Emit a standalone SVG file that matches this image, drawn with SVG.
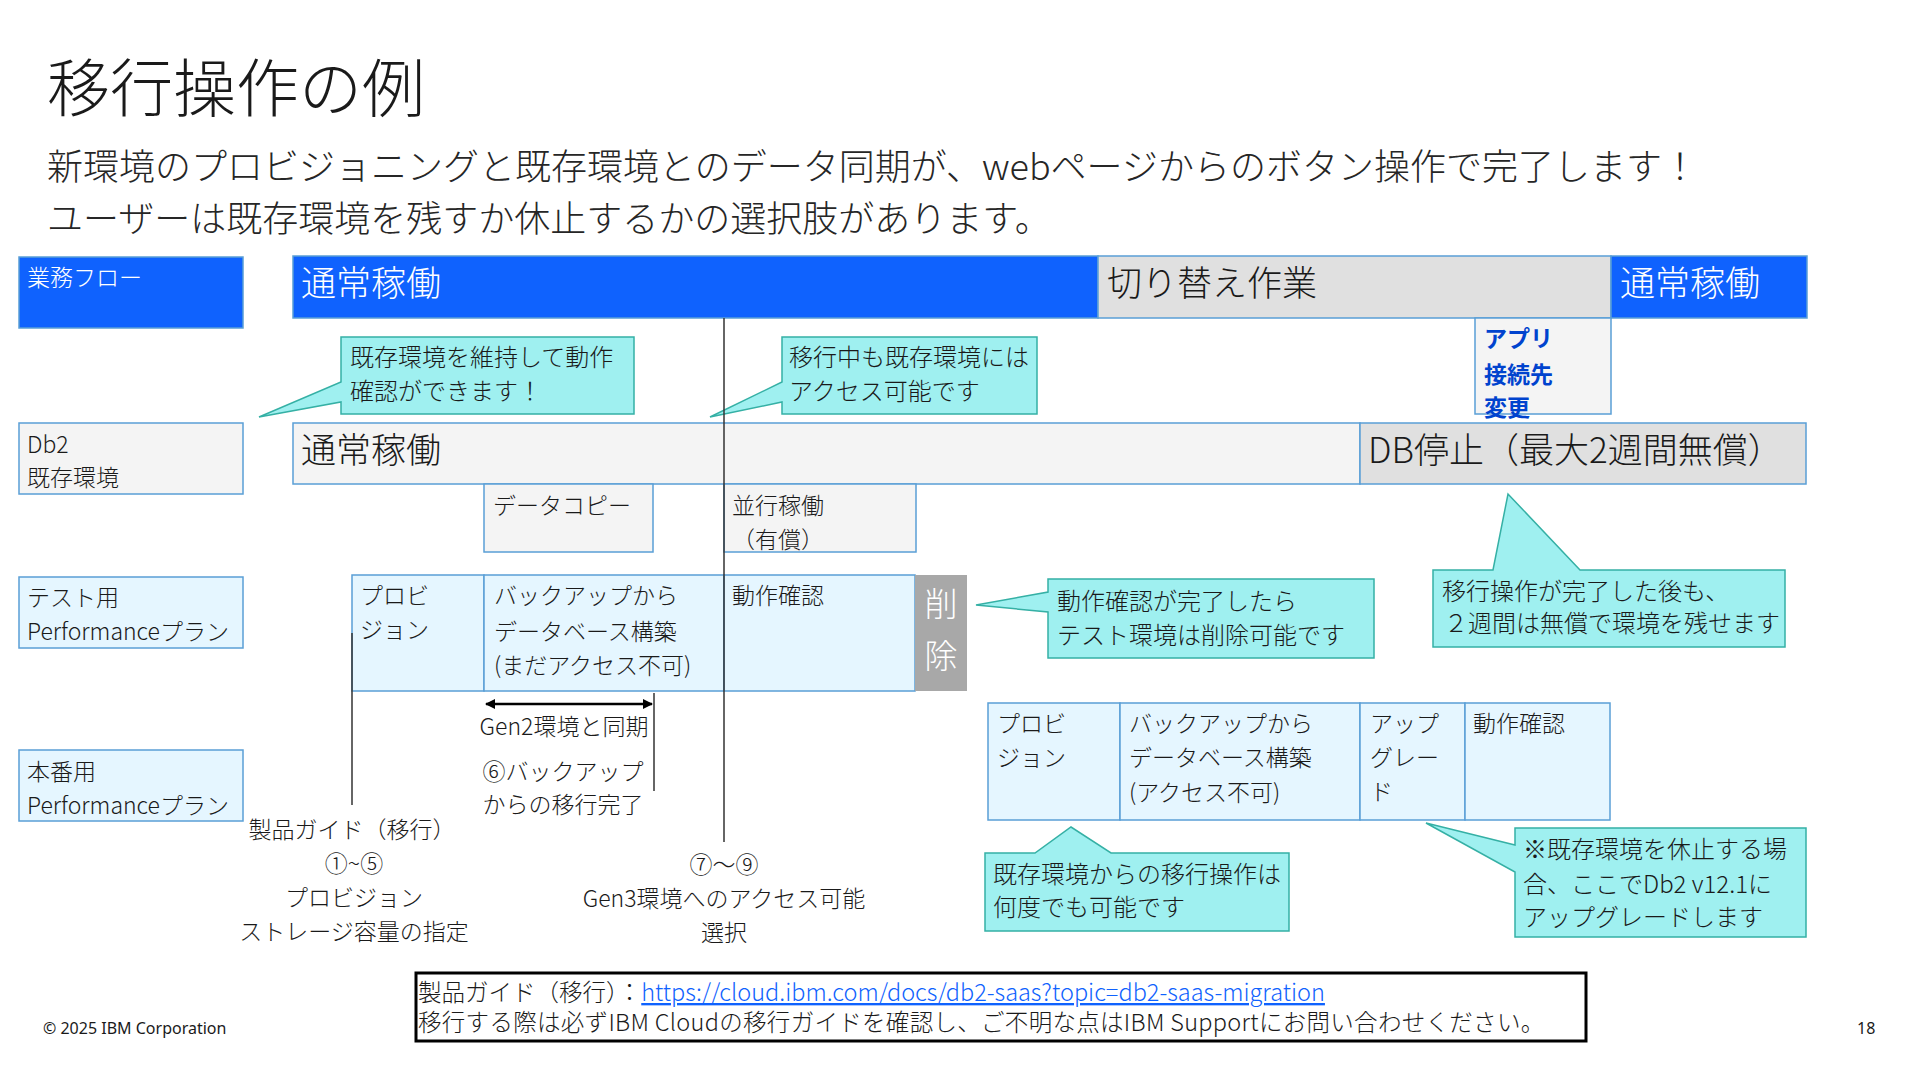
<svg xmlns="http://www.w3.org/2000/svg" width="1920" height="1080" viewBox="0 0 1920 1080">
<defs>
<style>
text { font-family: "Noto Sans CJK JP", "Noto Sans", sans-serif; fill: #1a1a1a; font-weight: 300; }
.t23 { font-size: 23px; }
.t24 { font-size: 24px; }
.big { font-size: 35px; }
.w { fill: #ffffff; }
.blue { fill: #0f62fe; stroke: #5a9fd6; stroke-width: 1.5; }
.grey { fill: #f4f4f4; stroke: #5a9fd6; stroke-width: 1.5; }
.grey2 { fill: #e0e0e0; stroke: #5a9fd6; stroke-width: 1.5; }
.cyan { fill: #e5f6ff; stroke: #5a9fd6; stroke-width: 1.5; }
.callout { fill: #9ff0f0; stroke: #35b0a5; stroke-width: 1.5; }
.del { fill: #a8a8a8; }
.line { stroke: #333333; stroke-width: 1.5; fill: none; }
.mid { text-anchor: middle; }
.app { fill: #0043ce; font-weight: bold; font-size: 23px; }
</style>
<marker id="arr" viewBox="0 0 10 10" refX="9" refY="5" markerWidth="4" markerHeight="4" orient="auto-start-reverse">
<path d="M0,0 L10,5 L0,10 z" fill="#000000"/>
</marker>
</defs>
<rect width="1920" height="1080" fill="#ffffff"/>

<g id="title">
<text x="47" y="111" style="font-size:63px">移行操作の例</text>
<text x="47" y="180" style="font-size:36px;fill:#262626">新環境のプロビジョニングと既存環境とのデータ同期が、webページからのボタン操作で完了します！</text>
<text x="47" y="232" style="font-size:36px;fill:#262626">ユーザーは既存環境を残すか休止するかの選択肢があります。</text>
</g>

<!-- row labels -->
<g id="label-flow"><rect class="blue" x="19" y="257" width="224" height="71"/><text class="t23 w" x="27" y="286">業務フロー</text></g>
<g id="label-db2"><rect class="grey" x="19" y="423" width="224" height="71"/><text class="t23" x="27" y="453">Db2</text><text class="t23" x="27" y="486">既存環境</text></g>
<g id="label-test"><rect class="cyan" x="19" y="577" width="224" height="71"/><text class="t23" x="27" y="606">テスト用</text><text class="t23" x="27" y="640">Performanceプラン</text></g>
<g id="label-prod"><rect class="cyan" x="19" y="750" width="224" height="71"/><text class="t23" x="27" y="780">本番用</text><text class="t23" x="27" y="814">Performanceプラン</text></g>

<!-- business flow -->
<g id="flow-normal1"><rect class="blue" x="293" y="256" width="805" height="62"/><text class="big w" x="301" y="296">通常稼働</text></g>
<g id="flow-switch"><rect class="grey2" x="1098" y="256" width="513" height="62"/><text class="big" x="1107" y="296">切り替え作業</text></g>
<g id="flow-normal2"><rect class="blue" x="1611" y="256" width="196" height="62"/><text class="big w" x="1620" y="296">通常稼働</text></g>
<g id="app-change"><rect class="grey" x="1475" y="318" width="136" height="96"/><text class="app" x="1484" y="347">アプリ</text><text class="app" x="1484" y="383">接続先</text><text class="app" x="1484" y="416">変更</text></g>

<!-- Db2 existing -->
<g id="db2-normal"><rect class="grey" x="293" y="423" width="1067" height="61"/><text class="big" x="301" y="463">通常稼働</text></g>
<g id="db2-stop"><rect class="grey2" x="1360" y="423" width="446" height="61"/><text class="big" x="1368" y="463">DB停止（最大2週間無償）</text></g>
<g id="data-copy"><rect class="grey" x="484" y="484" width="169" height="68"/><text class="t23" x="493" y="514">データコピー</text></g>
<g id="parallel"><rect class="grey" x="724" y="484" width="192" height="68"/><text class="t23" x="732" y="514">並行稼働</text><text class="t23" x="732" y="548">（有償）</text></g>

<!-- test plan -->
<g id="test-prov"><rect class="cyan" x="352" y="575" width="132" height="116"/><text class="t23" x="360" y="604">プロビ</text><text class="t23" x="360" y="638">ジョン</text></g>
<g id="test-build"><rect class="cyan" x="484" y="575" width="240" height="116"/><text class="t23" x="494" y="604">バックアップから</text><text class="t23" x="494" y="640">データベース構築</text><text class="t23" x="494" y="674">(まだアクセス不可)</text></g>
<g id="test-check"><rect class="cyan" x="724" y="575" width="191" height="116"/><text class="t23" x="732" y="604">動作確認</text></g>
<g id="test-delete"><rect class="del" x="915" y="575" width="52" height="116"/><text class="w mid" x="941" y="616" style="font-size:33px">削</text><text class="w mid" x="941" y="668" style="font-size:33px">除</text></g>

<!-- prod plan -->
<g id="prod-prov"><rect class="cyan" x="988" y="703" width="132" height="117"/><text class="t23" x="997" y="732">プロビ</text><text class="t23" x="997" y="766">ジョン</text></g>
<g id="prod-build"><rect class="cyan" x="1120" y="703" width="240" height="117"/><text class="t23" x="1129" y="732">バックアップから</text><text class="t23" x="1129" y="766">データベース構築</text><text class="t23" x="1129" y="801">(アクセス不可)</text></g>
<g id="prod-upgrade"><rect class="cyan" x="1360" y="703" width="105" height="117"/><text class="t23" x="1370" y="732">アップ</text><text class="t23" x="1370" y="766">グレー</text><text class="t23" x="1370" y="800">ド</text></g>
<g id="prod-check"><rect class="cyan" x="1465" y="703" width="145" height="117"/><text class="t23" x="1473" y="732">動作確認</text></g>

<!-- callouts -->
<g id="callout-keep"><path class="callout" d="M341,337 H634 V414 H341 V402 L259,417 L341,382 Z"/><text class="t24" x="350" y="366">既存環境を維持して動作</text><text class="t24" x="350" y="400">確認ができます！</text></g>
<g id="callout-access"><path class="callout" d="M782,337 H1037 V414 H782 V402 L710,417 L782,382 Z"/><text class="t24" x="789" y="366">移行中も既存環境には</text><text class="t24" x="789" y="400">アクセス可能です</text></g>
<g id="callout-delete"><path class="callout" d="M1048,579 H1374 V658 H1048 V612 L976,605 L1048,592 Z"/><text class="t24" x="1057" y="610">動作確認が完了したら</text><text class="t24" x="1057" y="644">テスト環境は削除可能です</text></g>
<g id="callout-2weeks"><path class="callout" d="M1433,570 H1493 L1508,494 L1580,570 H1785 V647 H1433 Z"/><text class="t24" x="1442" y="600">移行操作が完了した後も、</text><text class="t24" x="1444" y="632">２週間は無償で環境を残せます</text></g>
<g id="callout-repeat"><path class="callout" d="M985,853 H1035 L1071,827 L1111,853 H1289 V931 H985 Z"/><text class="t24" x="993" y="883">既存環境からの移行操作は</text><text class="t24" x="993" y="916">何度でも可能です</text></g>
<g id="callout-upgrade"><path class="callout" d="M1515,828 H1806 V937 H1515 V872 L1426,823 L1515,845 Z"/><text class="t24" x="1523" y="858">※既存環境を休止する場</text><text class="t24" x="1523" y="893">合、ここでDb2 v12.1に</text><text class="t24" x="1523" y="926">アップグレードします</text></g>

<!-- connectors -->
<g id="connectors">
<line class="line" x1="352" y1="633" x2="352" y2="805"/>
<line class="line" x1="654" y1="693" x2="654" y2="791"/>
<line class="line" x1="724" y1="318" x2="724" y2="842"/>
<line x1="486" y1="704" x2="652" y2="704" stroke="#000000" stroke-width="2.5" marker-start="url(#arr)" marker-end="url(#arr)"/>
</g>

<!-- annotations -->
<g id="note-guide">
<text class="t23 mid" x="352" y="838">製品ガイド（移行）</text>
<text class="t23 mid" x="354" y="872">①~⑤</text>
<text class="t23 mid" x="354" y="906">プロビジョン</text>
<text class="t23 mid" x="354" y="940">ストレージ容量の指定</text>
</g>
<g id="note-sync">
<text class="t23 mid" x="564" y="735">Gen2環境と同期</text>
<text class="t23 mid" x="563" y="780">⑥バックアップ</text>
<text class="t23 mid" x="563" y="813">からの移行完了</text>
</g>
<g id="note-gen3">
<text class="t23 mid" x="724" y="873">⑦〜⑨</text>
<text class="t23 mid" x="724" y="907">Gen3環境へのアクセス可能</text>
<text class="t23 mid" x="724" y="941">選択</text>
</g>

<g id="footer-box">
<rect x="416" y="973" width="1170" height="68" fill="#ffffff" stroke="#000000" stroke-width="3"/>
<text x="418" y="1001" style="font-size:23.5px">製品ガイド（移行）：<tspan style="fill:#0f62fe;text-decoration:underline">https://cloud.ibm.com/docs/db2-saas?topic=db2-saas-migration</tspan></text>
<text x="418" y="1031" style="font-size:23.5px;letter-spacing:0.3px">移行する際は必ずIBM Cloudの移行ガイドを確認し、ご不明な点はIBM Supportにお問い合わせください。</text>
</g>

<g id="footer">
<text x="43" y="1034" style="font-size:16px;font-family:'Noto Sans',sans-serif;font-weight:400">© 2025 IBM Corporation</text>
<text x="1857" y="1034" style="font-size:16px;font-family:'Noto Sans',sans-serif;font-weight:400">18</text>
</g>
</svg>
